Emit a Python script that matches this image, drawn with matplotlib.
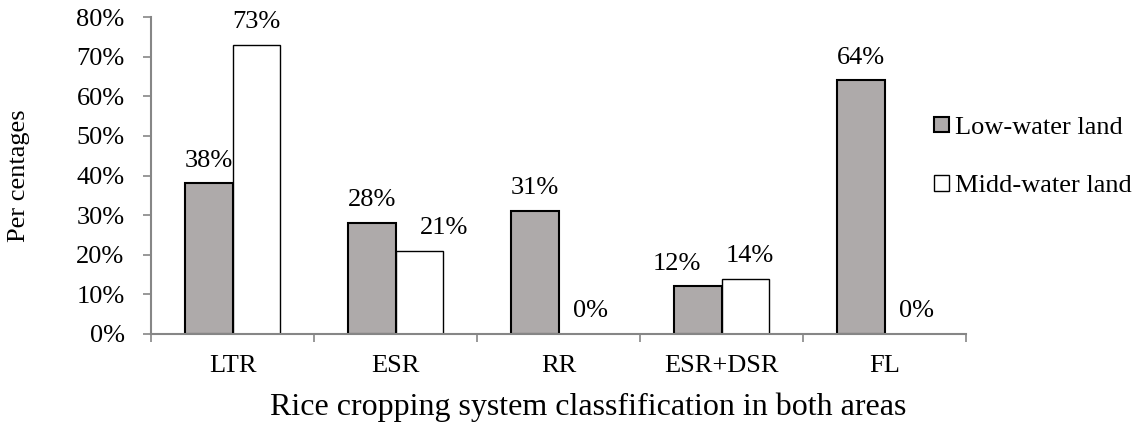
import matplotlib.pyplot as plt
import numpy as np

categories = ["LTR", "ESR", "RR", "ESR+DSR", "FL"]
low_water = [38, 28, 31, 12, 64]
midd_water = [73, 21, 0, 14, 0]
series_names = ["Low-water land", "Midd-water land"]

plt.rcParams['font.family'] = ['Liberation Serif', 'DejaVu Serif']

fig = plt.figure(figsize=(11.35, 4.24), dpi=100)
ax = fig.add_axes([151 / 1135, 1 - 334 / 424, (966 - 151) / 1135, (334 - 17) / 424])

x = np.arange(len(categories))
w = 0.29
b1 = ax.bar(x - w / 2, low_water, w, color="#AEAAAA", edgecolor="black", linewidth=1.5,
            label=series_names[0])
b2 = ax.bar(x + w / 2, midd_water, w, color="white", edgecolor="black", linewidth=1.0,
            label=series_names[1])

fs = 19
# some labels were nudged sideways in the original
shift1 = [0, 0, 0, -15, 0]
shift2 = [0, 18, 6, 3, 6]
for bars, vals, sh in [(b1, low_water, shift1), (b2, midd_water, shift2)]:
    for r, v, dx in zip(bars, vals, sh):
        ax.annotate(str(v) + "%", (r.get_x() + r.get_width() / 2, v),
                    xytext=(dx, 12), textcoords="offset points",
                    ha="center", va="baseline", fontsize=fs)

ax.set_xlim(-0.5, len(categories) - 0.5)
ax.set_ylim(0, 80)
ax.set_yticks(range(0, 81, 10))
ax.set_yticklabels([str(t) + "%" for t in range(0, 81, 10)], fontsize=fs)

# category labels centered, tick marks at the boundaries
ax.set_xticks(x)
ax.set_xticklabels(categories, fontsize=fs)
ax.tick_params(axis='x', which='major', length=0, pad=15)
ax.set_xticks(np.arange(-0.5, len(categories), 1), minor=True)
ax.tick_params(axis='x', which='minor', length=6, color="#868686", width=1.2, direction='out')
ax.tick_params(axis='y', length=6, color="#868686", width=1.2, direction='out', pad=13)

for s in ["top", "right"]:
    ax.spines[s].set_visible(False)
for s in ["left", "bottom"]:
    ax.spines[s].set_color("#868686")
    ax.spines[s].set_linewidth(1.5)

ax.set_ylabel("Per centages", fontsize=fs)
ax.yaxis.set_label_coords(-0.148, 0.5)
ax.set_xlabel("Rice cropping system classfification in both areas", fontsize=23)
ax.xaxis.set_label_coords(0.537, -0.185)

fig.legend(handles=[b1, b2], loc="center left", bbox_to_anchor=(934 / 1135, 1 - 157 / 424),
           frameon=False, fontsize=fs, handlelength=0.55, handleheight=0.55,
           handletextpad=0.25, labelspacing=1.38, borderpad=0, borderaxespad=0)

fig.savefig("out.png", dpi=100)
